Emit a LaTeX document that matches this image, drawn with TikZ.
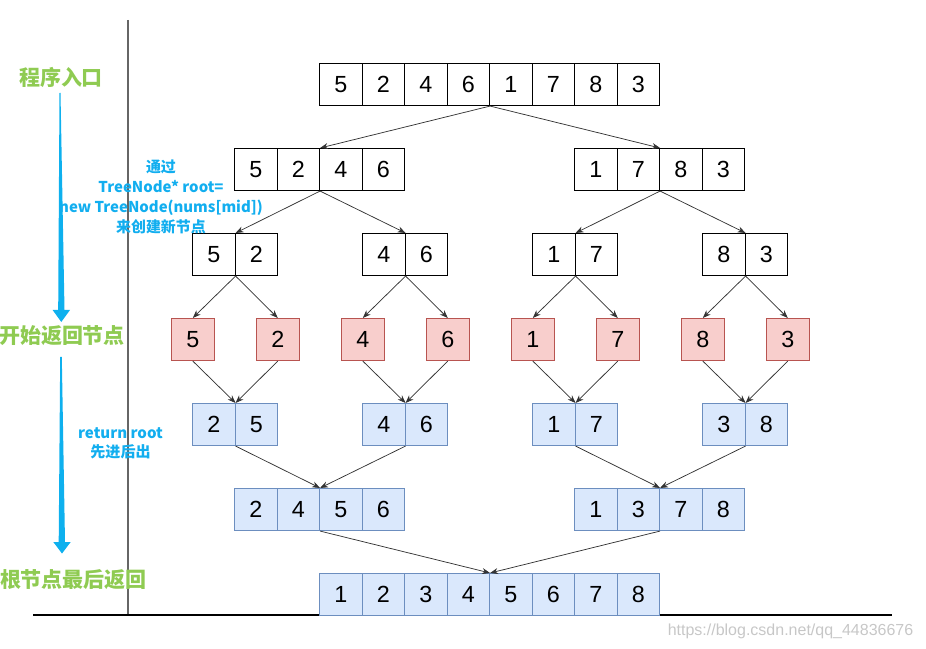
\documentclass[tikz,border=0pt]{standalone}
\usepackage{fontspec}
\setmainfont{Liberation Sans}
\newfontfamily\cjk{Noto Sans CJK SC}
\usetikzlibrary{arrows.meta}
\definecolor{redfill}{HTML}{F8CECC}
\definecolor{redline}{HTML}{B85450}
\definecolor{bluefill}{HTML}{DAE8FC}
\definecolor{blueline}{HTML}{6C8EBF}
\definecolor{lblgreen}{HTML}{8FCB52}
\definecolor{lblblue}{HTML}{12AEEF}
\definecolor{arrblue}{HTML}{0EB0EE}
\tikzset{
 cell/.style={draw=black, line width=0.8pt, minimum width=31.875pt, minimum height=31.5pt, inner sep=0pt, font=\fontsize{17.5}{20}\selectfont},
 redcell/.style={cell, draw=redline, fill=redfill},
 bluecell/.style={cell, draw=blueline, fill=bluefill},
 plaincell/.style={cell, fill=white},
 conn/.style={draw=black!80, line width=0.55pt, -{Stealth[length=6pt,width=4.5pt]}},
 greenlbl/.style={text=lblgreen, font=\cjk\bfseries\fontsize{15.75}{18}\selectfont},
 bluelbl/.style={text=lblblue, align=center, font=\cjk\bfseries\fontsize{11.2}{15}\selectfont},
 bigarrow/.style={fill=arrblue, draw=none},
}
\newcommand\cellrow[5]{\foreach \cv [count=\ci] in {#5} {\node[#4, anchor=north west] (#1-\ci) at ({#2+(\ci-1)*42.5},#3) {\cv};}}
\begin{document}
\begin{tikzpicture}[x=0.75pt,y=-0.75pt]
\useasboundingbox (0,0) rectangle (926,649);
% axes lines
\draw[black!60, line width=1.1pt] (128,20) -- (128,615);
\draw[black, line width=0.8pt] (33,615) -- (892,615);
% rows
\cellrow{ra}{319}{63}{plaincell}{5,2,4,6,1,7,8,3}
\cellrow{rbl}{234}{148}{plaincell}{5,2,4,6}
\cellrow{rbr}{574}{148}{plaincell}{1,7,8,3}
\cellrow{rca}{192}{233}{plaincell}{5,2}
\cellrow{rcb}{362}{233}{plaincell}{4,6}
\cellrow{rcc}{532}{233}{plaincell}{1,7}
\cellrow{rcd}{702}{233}{plaincell}{8,3}
\node[redcell, anchor=north west] (s1) at (171,318) {5};
\node[redcell, anchor=north west] (s2) at (256,318) {2};
\node[redcell, anchor=north west] (s3) at (341,318) {4};
\node[redcell, anchor=north west] (s4) at (426,318) {6};
\node[redcell, anchor=north west] (s5) at (511,318) {1};
\node[redcell, anchor=north west] (s6) at (596,318) {7};
\node[redcell, anchor=north west] (s7) at (681,318) {8};
\node[redcell, anchor=north west] (s8) at (766,318) {3};
\cellrow{rea}{192}{403}{bluecell}{2,5}
\cellrow{reb}{362}{403}{bluecell}{4,6}
\cellrow{rec}{532}{403}{bluecell}{1,7}
\cellrow{red}{702}{403}{bluecell}{3,8}
\cellrow{rfl}{234}{488}{bluecell}{2,4,5,6}
\cellrow{rfr}{574}{488}{bluecell}{1,3,7,8}
\cellrow{rg}{319}{573}{bluecell}{1,2,3,4,5,6,7,8}
% connectors
\draw[conn] (ra-4.south east) -- (rbl-2.north east);
\draw[conn] (ra-4.south east) -- (rbr-2.north east);
\draw[conn] (rbl-2.south east) -- (rca-1.north east);
\draw[conn] (rbl-2.south east) -- (rcb-1.north east);
\draw[conn] (rbr-2.south east) -- (rcc-1.north east);
\draw[conn] (rbr-2.south east) -- (rcd-1.north east);
\draw[conn] (rca-1.south east) -- (s1.north);
\draw[conn] (rca-1.south east) -- (s2.north);
\draw[conn] (rcb-1.south east) -- (s3.north);
\draw[conn] (rcb-1.south east) -- (s4.north);
\draw[conn] (rcc-1.south east) -- (s5.north);
\draw[conn] (rcc-1.south east) -- (s6.north);
\draw[conn] (rcd-1.south east) -- (s7.north);
\draw[conn] (rcd-1.south east) -- (s8.north);
\draw[conn] (s1.south) -- (rea-1.north east);
\draw[conn] (s2.south) -- (rea-1.north east);
\draw[conn] (s3.south) -- (reb-1.north east);
\draw[conn] (s4.south) -- (reb-1.north east);
\draw[conn] (s5.south) -- (rec-1.north east);
\draw[conn] (s6.south) -- (rec-1.north east);
\draw[conn] (s7.south) -- (red-1.north east);
\draw[conn] (s8.south) -- (red-1.north east);
\draw[conn] (rea-1.south east) -- (rfl-2.north east);
\draw[conn] (reb-1.south east) -- (rfl-2.north east);
\draw[conn] (rec-1.south east) -- (rfr-2.north east);
\draw[conn] (red-1.south east) -- (rfr-2.north east);
\draw[conn] (rfl-2.south east) -- (rg-4.north east);
\draw[conn] (rfr-2.south east) -- (rg-4.north east);
% big blue arrows
\fill[bigarrow] (59.5,93) -- (60.5,93) -- (64.5,310) -- (70,310) -- (61.3,322) -- (52.6,310) -- (58.2,310) -- cycle;
\fill[bigarrow] (60.2,357) -- (61.8,357) -- (65,542) -- (70.7,542) -- (62,553.5) -- (53.3,542) -- (58.7,542) -- cycle;
% labels
\node[greenlbl] (lstart) at (61,77.5) {程序入口};
\node[greenlbl] (lret) at (62,336) {开始返回节点};
\node[greenlbl] (lroot) at (73.5,580) {根节点最后返回};
\node[bluelbl] (lnew) at (161,197) {通过\\TreeNode* root=\\new TreeNode(nums[mid])\\来创建新节点};
\node[bluelbl, font=\cjk\bfseries\fontsize{11.3}{14.25}\selectfont] (lreturn) at (120.5,443) {return root\\先进后出};
\node[text=black!22, font=\fontsize{12}{14}\selectfont, anchor=east] (wm) at (918,631) {https://blog.csdn.net/qq\_44836676};
\end{tikzpicture}
\end{document}
